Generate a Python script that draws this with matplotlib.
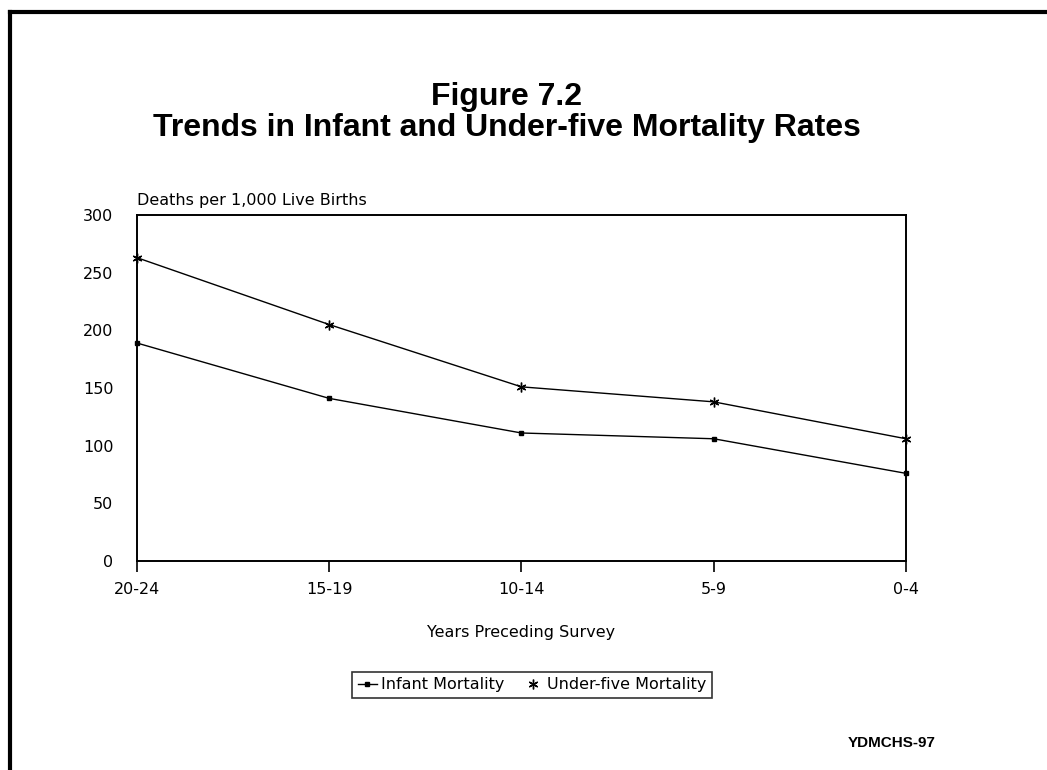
import matplotlib.pyplot as plt
from matplotlib.lines import Line2D

periods = ["20-24", "15-19", "10-14", "5-9", "0-4"]
infant = [189, 141, 111, 106, 76]
under_five = [263, 205, 151, 138, 106]

plt.rcParams['font.family'] = ['DejaVu Sans']
small = 11.5

fig = plt.figure(figsize=(10.47, 7.70), dpi=100)
ax = fig.add_axes([0.1308, 0.2714, 0.7345, 0.4494])

x = range(len(periods))
ax.plot(x, infant, color="black", lw=1.0, marker="s", ms=3, clip_on=False)
ax.plot(x, under_five, color="black", lw=1.0, marker=(6, 2, 0), ms=7, mew=1.0,
        clip_on=False)

ax.set_xlim(0, len(periods) - 1)
ax.set_ylim(0, 300)
ax.set_yticks(range(0, 301, 50))
ax.set_xticks(list(x))
ax.set_xticklabels(periods)
ax.tick_params(axis="y", length=0, pad=17, labelsize=small)
ax.tick_params(axis="x", length=8, width=1.2, pad=7, labelsize=small)
for s in ax.spines.values():
    s.set_linewidth(1.4)

ax.set_xlabel("Years Preceding Survey", fontsize=small, labelpad=20)
ax.text(0, 1.02, "Deaths per 1,000 Live Births", transform=ax.transAxes,
        fontsize=small, ha="left", va="bottom")

title_font = dict(family="Liberation Sans", fontsize=23, fontweight="bold")
fig.text(0.484, 0.874, "Figure 7.2", ha="center", va="center", **title_font)
fig.text(0.484, 0.834, "Trends in Infant and Under-five Mortality Rates",
         ha="center", va="center", **title_font)

handles = [Line2D([], [], color="black", lw=1.0, marker="s", ms=3),
           Line2D([], [], color="none", marker=(6, 2, 0), ms=7, mec="black", mew=1.0)]
leg = fig.legend(handles, ["Infant Mortality", "Under-five Mortality"], ncol=2,
                 loc="center", bbox_to_anchor=(0.508, 0.1105), fontsize=small,
                 frameon=True, fancybox=False, handlelength=1.2, handletextpad=0.25,
                 columnspacing=1.2, borderpad=0.35, borderaxespad=0,
                 edgecolor="black")
leg.get_frame().set_linewidth(1.2)

fig.text(0.852, 0.035, "YDMCHS-97", family="Liberation Sans", fontsize=11,
         fontweight="bold", ha="center", va="center")

# page border (left and top only)
fig.add_artist(Line2D([0.0092, 0.0092], [0, 0.984], transform=fig.transFigure,
                      color="black", lw=3))
fig.add_artist(Line2D([0.0092, 1.0], [0.984, 0.984], transform=fig.transFigure,
                      color="black", lw=3))

plt.savefig("out.png", dpi=100)
plt.close()
